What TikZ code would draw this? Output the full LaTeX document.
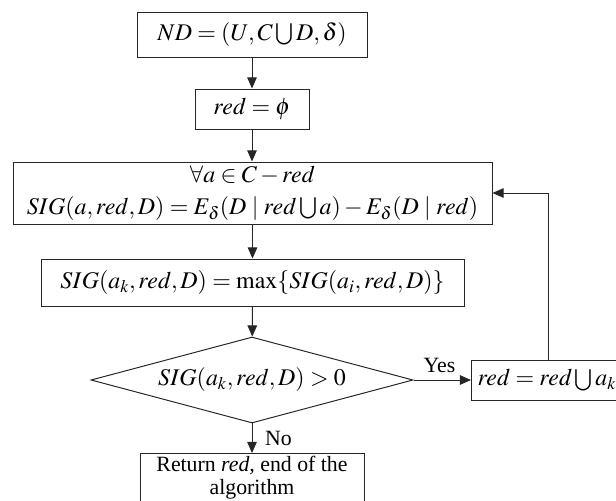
\documentclass[tikz,border=0pt]{standalone}
\usepackage{mathptmx}
\usepackage[no-math]{fontspec}
\setmainfont{Liberation Serif}
\usetikzlibrary{shapes.geometric}
\usetikzlibrary{arrows.meta}

\newcommand{\px}{0.025cm}
\newcommand{\mathfs}{\fontsize{17}{20}\selectfont}
\newcommand{\textfs}{\fontsize{15.5}{16}\selectfont}

\tikzset{
	stepbox/.style={draw=black!85, line width=0.7pt, rectangle, inner sep=0pt, font=\mathfs},
	testbox/.style={draw=black!85, line width=0.7pt, diamond, aspect=3.7, inner sep=0pt, font=\mathfs},
	flow/.style={draw=black!85, line width=0.7pt, -{Triangle[length=0.28cm, width=0.24cm]}},
	note/.style={font=\textfs, inner sep=5pt}
}

\begin{document}
\begin{tikzpicture}[x=0.025cm, y=-0.025cm]
		\useasboundingbox (0,0) rectangle (616,500);
		\node[stepbox, minimum width=230*\px, minimum height=45*\px] (nd) at (252,34.5) {$ND=(U,C\bigcup D,\delta)$};
		\node[stepbox, minimum width=114*\px, minimum height=40*\px] (init) at (252,109) {$red=\phi$};
		\node[stepbox, minimum width=479*\px, minimum height=62*\px, align=center] (sig) at (252.5,193) {$\forall a\in C-red$\\[3pt]$SIG(a,red,D)=E_\delta(D\mid red\bigcup a)-E_\delta(D\mid red)$};
		\node[stepbox, minimum width=423*\px, minimum height=47*\px] (maxk) at (252.5,282.5) {$SIG(a_k,red,D)=\max\{SIG(a_i,red,D)\}$};
		\node[testbox, minimum width=322*\px, minimum height=86*\px] (cond) at (252,380) {$SIG(a_k,red,D)>0$};
		\node[stepbox, anchor=west, minimum height=40*\px, inner xsep=6*\px] (add) at (471,380) {$red=red\bigcup a_k$};
		\node[stepbox, font=\textfs, anchor=north, minimum width=224*\px, inner ysep=3*\px, align=center] (stop) at (252,453) {Return \textit{red,} end of the\\algorithm};
		\coordinate (back) at (548,193);
		\draw[flow] (nd) -- (init);
		\draw[flow] (init) -- (sig.north -| init);
		\draw[flow] (sig.south -| maxk) -- (maxk);
		\draw[flow] (maxk) -- (cond);
		\draw[flow] (cond) -- node[note, above, xshift=-2pt] {Yes} (add);
		\draw[flow] (cond) -- node[note, right, xshift=4pt] {No} (stop);
		\draw[flow] (back |- add.north) -- (back) -- (sig.east);
	\end{tikzpicture}
\end{document}
